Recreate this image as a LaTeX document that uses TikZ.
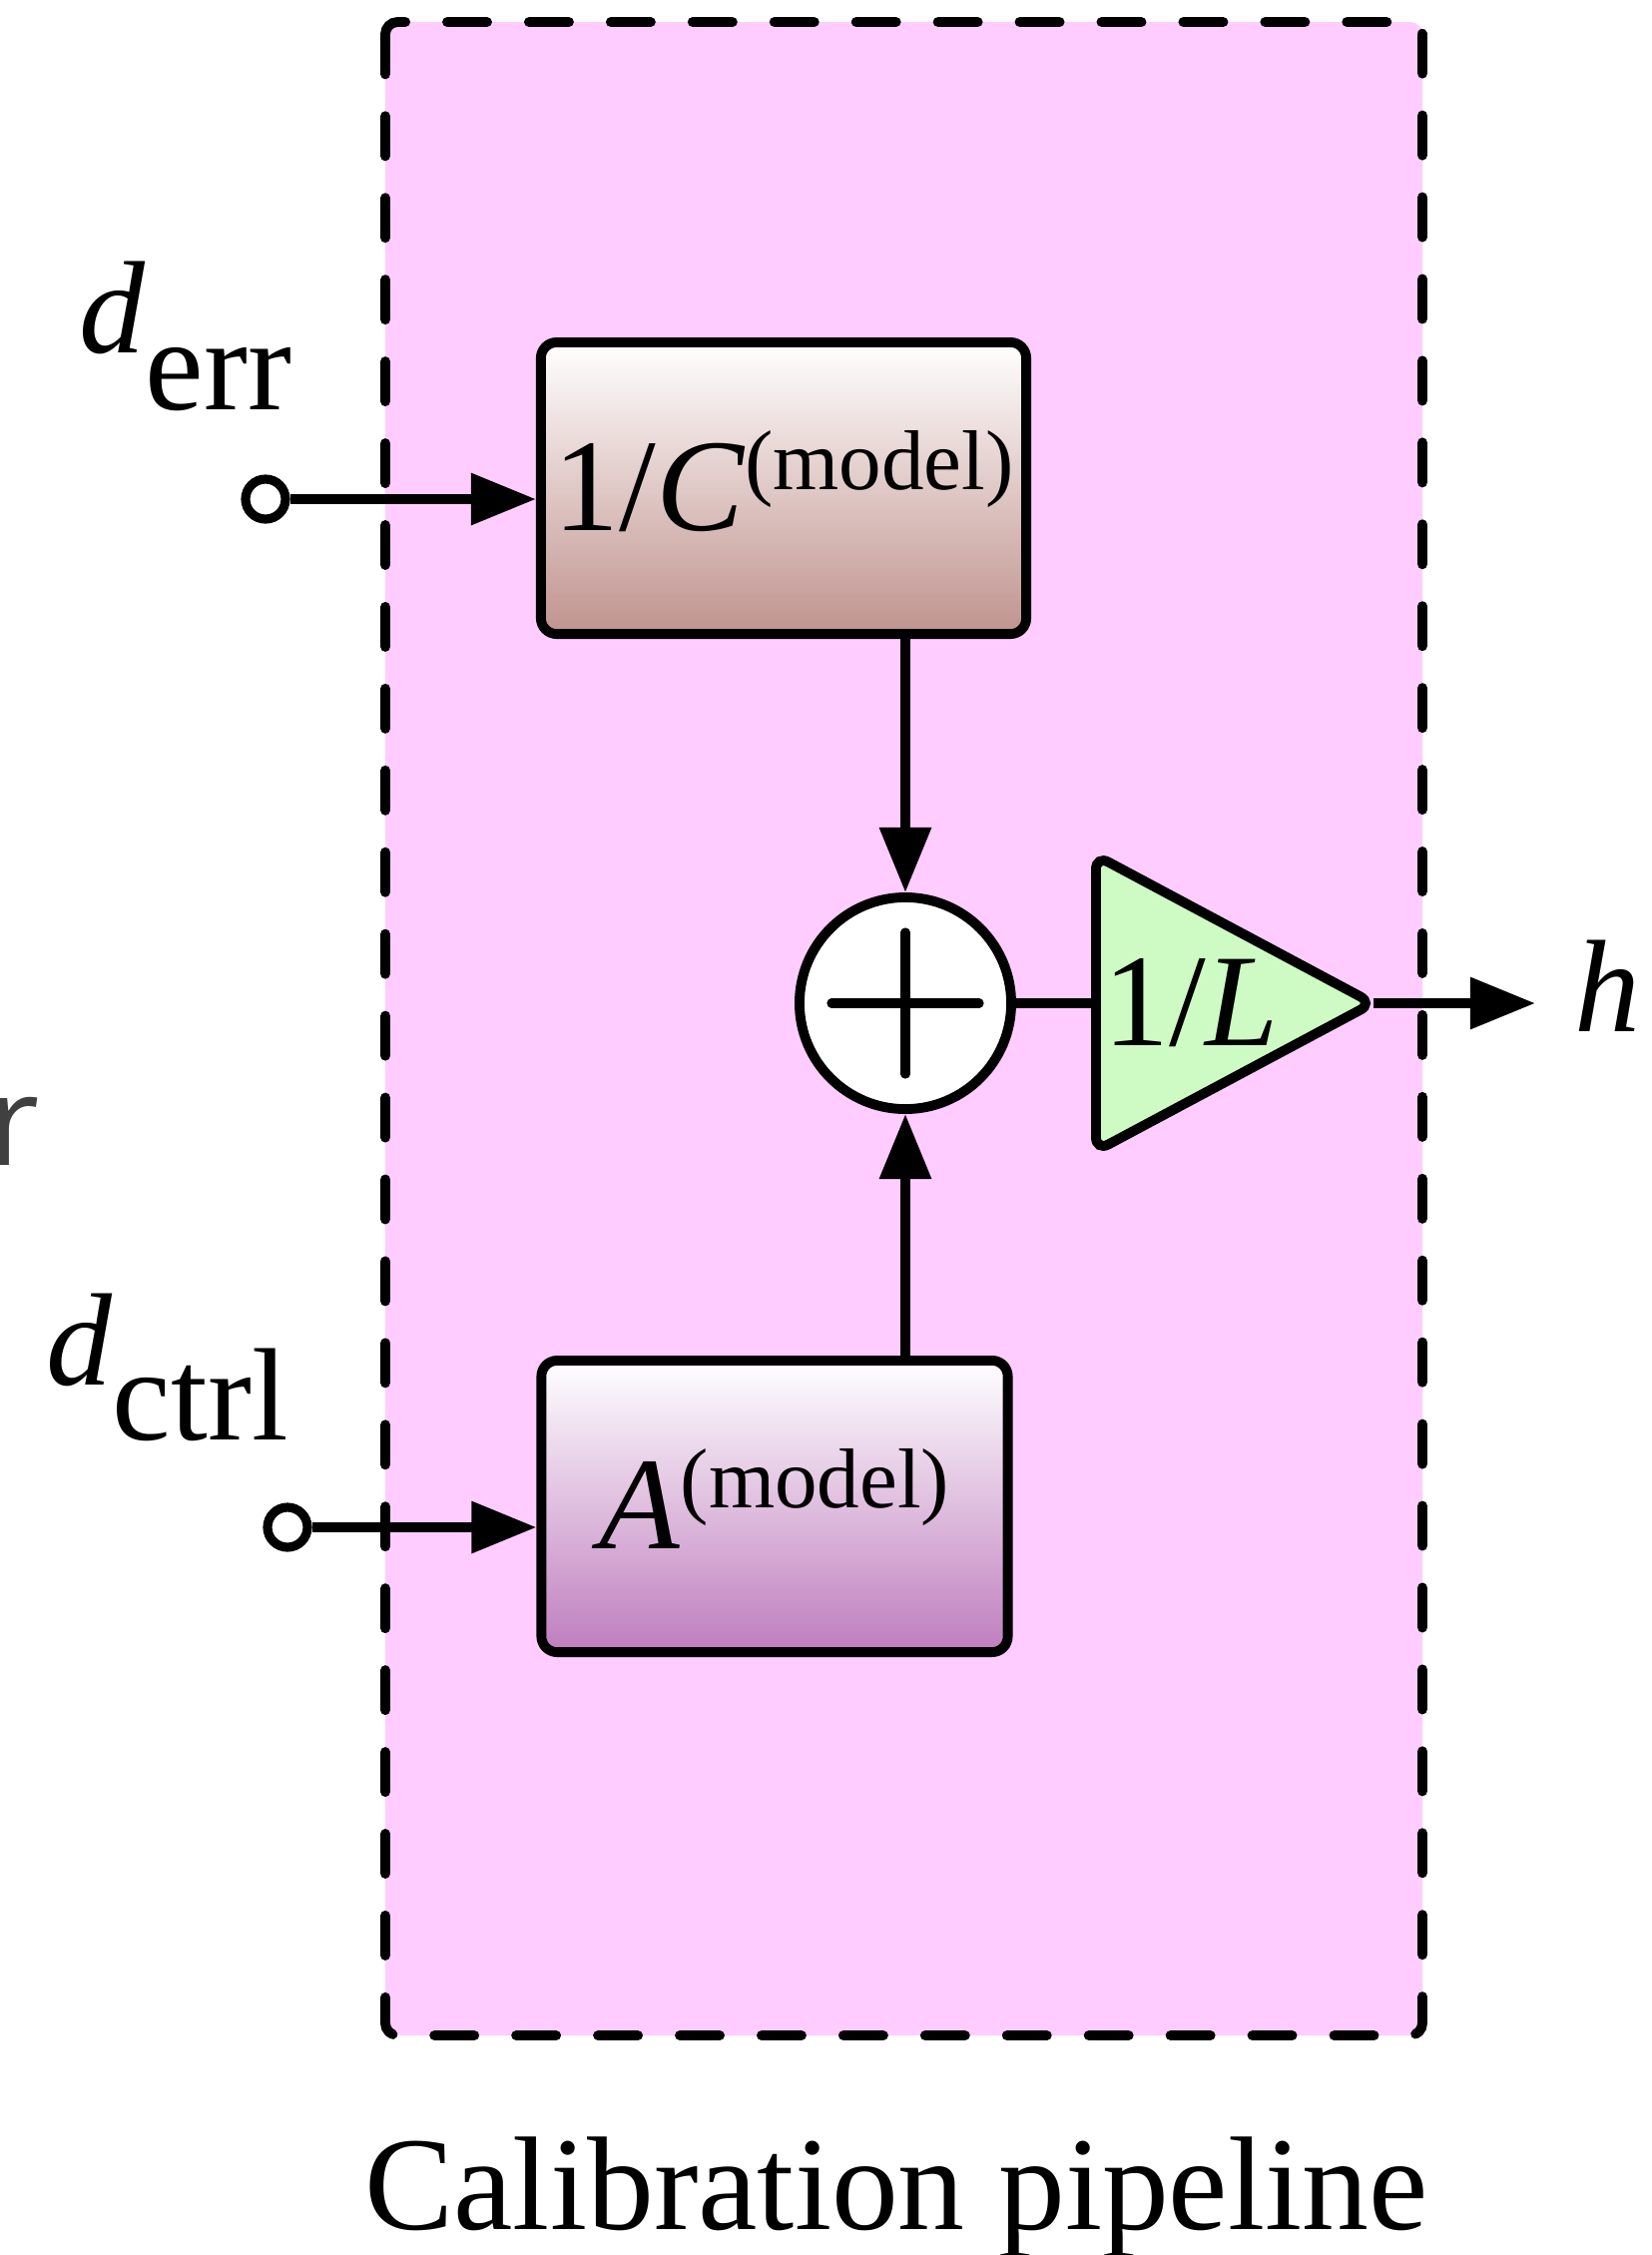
\documentclass[tikz,border=0pt]{standalone}
\usepackage{fontspec}
\setmainfont{Liberation Serif}
\newfontfamily\fragfont{Open Sans}
\usetikzlibrary{arrows.meta,shapes.geometric,positioning}

\definecolor{pipefill}{RGB}{255,204,255}
\definecolor{gainfill}{RGB}{206,250,196}
\definecolor{invbottom}{RGB}{192,147,142}
\definecolor{actbottom}{RGB}{191,125,190}
\definecolor{fraggray}{RGB}{64,64,64}

\newcommand{\mdl}{\raisebox{0.41cm}{\fontsize{24.2}{26}\selectfont (model)}}

\tikzset{
  blok/.style={draw, line width=2.8pt, rounded corners=4.5pt, minimum height=2.92cm,
    inner sep=0pt, text height=0.84cm, text depth=0pt},
  vstup/.style={circle, draw, fill=white, line width=2.6pt, minimum size=0.4cm, inner sep=0pt},
  sig/.style={line width=2.8pt, -{Triangle[length=18.5pt,width=14.2pt]}},
}

\begin{document}
\begin{tikzpicture}[x=0.01cm, y=-0.01cm, font=\fontsize{37.5}{40}\selectfont]
\useasboundingbox (0,0) rectangle (1655,2259);

% Oblast kalibrace
\draw[fill=pipefill, line width=2.8pt, dash pattern=on 11.4pt off 11.9pt, line cap=round,
  rounded corners=3.5pt] (386,22) rectangle (1425,2039);
\node[anchor=base, inner sep=0pt, font=\fontsize{38}{40}\selectfont] (pipe) at (898,2233) {Calibration pipeline};

% Zbytek popisku zleva
\node[anchor=base west, inner sep=0pt, text=fraggray, font=\fragfont\fontsize{35.6}{38}\selectfont] (frag) at (-12,1167) {r};

% Bloky
\node[blok, minimum width=4.86cm, top color=white, bottom color=invbottom] (cmodel) at (785,489) {1/\textit{C}\mdl};
\node[blok, minimum width=4.67cm, top color=white, bottom color=actbottom] (amodel) at (776,1509) {\textit{A}\mdl};

% Scitacka
\node[circle, draw, fill=white, line width=2.8pt, minimum size=2.12cm, inner sep=0pt] (sum) at (907,1005) {};
\draw[line width=2.6pt, line cap=round] ([xshift=-0.74cm]sum.center) -- ([xshift=0.74cm]sum.center);
\draw[line width=2.6pt, line cap=round] ([yshift=-0.71cm]sum.center) -- ([yshift=0.71cm]sum.center);

% Zesilovac 1/L
\node[isosceles triangle, isosceles triangle stretches, draw, fill=gainfill, line width=2.8pt,
  rounded corners=4pt, minimum height=2.65cm, minimum width=2.96cm, inner sep=0pt,
  text height=0.84cm, text depth=0pt, anchor=west] (gain) at (1093,1005) {1/\textit{L}};

% Vstupy a vystup
\node[vstup] (derr) at (266,500) {};
\node[vstup] (dctrl) at (288,1530) {};
\node[anchor=base west, inner sep=0pt] (derrlabel) at (79,353) {\textit{d}\raisebox{-0.57cm}{err}};
\node[anchor=base west, inner sep=0pt] (dctrllabel) at (46,1387) {\textit{d}\raisebox{-0.55cm}{ctrl}};
\node[anchor=base west, inner sep=0pt] (hlabel) at (1577,1033) {\textit{h}};

% Spoje
\draw[sig] (derr) -- (derr -| cmodel.west);
\draw[sig] (dctrl) -- (dctrl -| amodel.west);
\draw[sig] (cmodel.south -| sum.north) -- (sum.north);
\draw[sig] (amodel.north -| sum.south) -- (sum.south);
\draw[line width=2.8pt] (sum) -- (gain);
\draw[sig, shorten >=0.39cm] ([xshift=-0.12cm]gain.apex) -- (gain.apex -| hlabel.west);
\end{tikzpicture}
\end{document}
